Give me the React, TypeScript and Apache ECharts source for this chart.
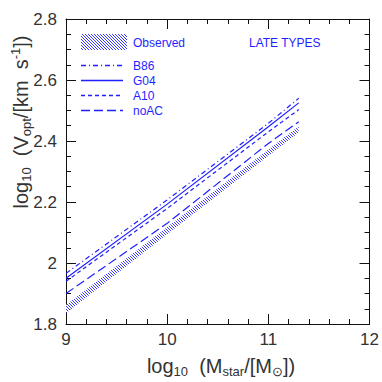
import React, { useEffect, useRef } from "react";
import * as echarts from "echarts";

const massX = [9, 10, 11, 11.3];
const b86 = [1.966, 2.207, 2.458, 2.54];
const g04 = [1.95, 2.193, 2.447, 2.525];
const a10 = [1.94, 2.179, 2.43, 2.503];
const noAC = [1.9, 2.13, 2.392, 2.463];
const obsLow = [1.835, 2.094, 2.352, 2.428];
const obsHigh = [1.862, 2.118, 2.372, 2.448];

const xTicks = [9, 10, 11, 12];
const yTicks = [1.8, 2, 2.2, 2.4, 2.6, 2.8];

const FONT = "Liberation Sans, Arial, sans-serif";
const BLUE = "#1f1fff";
const GREY = "#333333";

function makeHatch(): HTMLCanvasElement {
  const c = document.createElement("canvas");
  c.width = 3;
  c.height = 3;
  const ctx = c.getContext("2d")!;
  ctx.fillStyle = "#ffffff";
  ctx.fillRect(0, 0, 3, 3);
  ctx.fillStyle = "#3a3aff";
  for (let x = 0; x < 3; x++) {
    for (let y = 0; y < 3; y++) {
      if ((x - y + 6) % 3 === 0) ctx.fillRect(x, y, 1, 1);
    }
  }
  return c;
}

export default function App() {
  const ref = useRef<HTMLDivElement>(null);
  useEffect(() => {
    if (!ref.current) return;
    const chart = echarts.init(ref.current, undefined, { renderer: "svg" });
    const hatch = { image: makeHatch(), repeat: "repeat" } as any;

    const tickStyle = { color: "#111", width: 1 };
    const axisCommon = (showLabel: boolean, minorSplit: number, margin: number) => ({
      axisLine: { show: true, lineStyle: tickStyle },
      axisTick: { show: true, inside: true, length: 10, lineStyle: tickStyle },
      minorTick: { show: true, splitNumber: minorSplit, length: 5, lineStyle: tickStyle },
      splitLine: { show: false },
      minorSplitLine: { show: false },
      axisLabel: {
        show: showLabel,
        fontSize: 17,
        color: GREY,
        fontFamily: FONT,
        margin,
        formatter: (v: number) => String(Math.round(v * 10) / 10),
      },
    });

    const xBase = {
      type: "value",
      min: xTicks[0],
      max: xTicks[xTicks.length - 1],
      interval: 1,
    };
    const yBase = {
      type: "value",
      min: yTicks[0],
      max: yTicks[yTicks.length - 1],
      interval: 0.2,
    };

    const lineSeries = (name: string, vals: number[], dash: any) => ({
      name,
      type: "line",
      data: massX.map((x, i) => [x, vals[i]]),
      showSymbol: false,
      symbol: "none",
      lineStyle: { color: BLUE, width: 1.2, type: dash },
      z: 3,
    });

    const richMain = { fontSize: 20, lineHeight: 24, fill: GREY, color: GREY, fontFamily: FONT };
    const richSub = { fontSize: 13, lineHeight: 13, verticalAlign: "bottom", fill: GREY, color: GREY, fontFamily: FONT };
    const richSup = { fontSize: 13, lineHeight: 13, verticalAlign: "top", fill: GREY, color: GREY, fontFamily: FONT };

    const legendLines = [
      { label: "B86", dash: [5, 3, 1, 3], y: 65.5 },
      { label: "G04", dash: null, y: 80.5 },
      { label: "A10", dash: [4, 3], y: 95.5 },
      { label: "noAC", dash: [9, 4], y: 110.5 },
    ];

    const graphics: any[] = [
      {
        type: "rect",
        shape: { x: 81, y: 34, width: 46, height: 16 },
        style: { fill: hatch },
      },
      {
        type: "text",
        x: 133,
        y: 43,
        style: { text: "Observed", fill: BLUE, fontSize: 12, fontFamily: FONT, verticalAlign: "middle" },
      },
      {
        type: "text",
        x: 249,
        y: 43,
        style: { text: "LATE TYPES", fill: BLUE, fontSize: 12, fontFamily: FONT, verticalAlign: "middle" },
      },
      ...legendLines.flatMap((l) => [
        {
          type: "line",
          shape: { x1: 81, y1: l.y, x2: 123, y2: l.y },
          style: l.dash
            ? { stroke: BLUE, lineWidth: 1.3, lineDash: l.dash }
            : { stroke: BLUE, lineWidth: 1.3 },
        },
        {
          type: "text",
          x: 133,
          y: l.y,
          style: { text: l.label, fill: BLUE, fontSize: 12, fontFamily: FONT, verticalAlign: "middle" },
        },
      ]),
      {
        type: "text",
        x: 221,
        y: 366,
        style: {
          text: "{a|log}{s|10}{a|  (M}{s|star}{a|/[M}{s|⊙}{a|])}",
          fontFamily: FONT,
          fontSize: 20,
          fill: GREY,
          align: "center",
          verticalAlign: "middle",
          rich: { a: richMain, s: richSub },
        },
      },
      {
        type: "text",
        x: 21,
        y: 122,
        rotation: Math.PI / 2,
        style: {
          text: "{a|log}{s|10}{a|  (V}{s|opt}{a|/[km  s}{p|-1}{a|])}",
          fontFamily: FONT,
          fontSize: 20,
          fill: GREY,
          align: "center",
          verticalAlign: "middle",
          rich: { a: richMain, s: richSub, p: richSup },
        },
      },
    ];

    chart.setOption({
      animation: false,
      backgroundColor: "#ffffff",
      textStyle: { fontFamily: FONT },
      grid: { left: 66, right: 11, top: 19, bottom: 58, containLabel: false },
      xAxis: [
        { ...xBase, position: "bottom", ...axisCommon(true, 5, 7) },
        { ...xBase, position: "top", ...axisCommon(false, 5, 7) },
      ],
      yAxis: [
        { ...yBase, position: "left", ...axisCommon(true, 4, 9) },
        { ...yBase, position: "right", ...axisCommon(false, 4, 9) },
      ],
      series: [
        {
          type: "custom",
          name: "Observed",
          data: [[massX[0], obsLow[0]]],
          z: 2,
          renderItem: (_params: any, api: any) => {
            const upper = massX.map((x, i) => api.coord([x, obsHigh[i]]));
            const lower = massX.map((x, i) => api.coord([x, obsLow[i]])).reverse();
            return {
              type: "polygon",
              shape: { points: upper.concat(lower) },
              style: { fill: hatch, stroke: "none" },
            };
          },
        },
        lineSeries("B86", b86, [5, 3, 1, 3]),
        lineSeries("G04", g04, "solid"),
        lineSeries("A10", a10, [4, 3]),
        lineSeries("noAC", noAC, [9, 4]),
      ],
      graphic: graphics,
    });
    return () => chart.dispose();
  }, []);
  return (
    <div
      ref={ref}
      style={{ position: "fixed", left: 0, top: 0, width: 382, height: 382 }}
    />
  );
}
